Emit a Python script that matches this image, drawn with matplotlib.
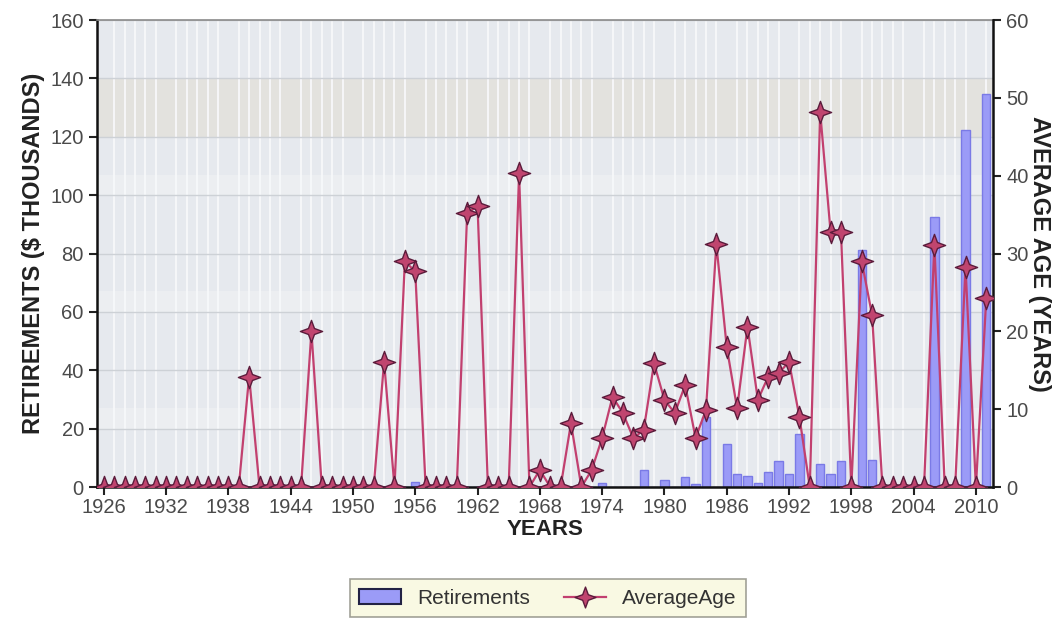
import matplotlib
matplotlib.use('Agg')
import matplotlib.pyplot as plt
from matplotlib.path import Path
from matplotlib.patches import Patch
from matplotlib.lines import Line2D

plt.rcParams['font.family'] = ['Liberation Sans', 'DejaVu Sans']

# data
years = list(range(1926, 2012))

retirements = [
    0, 0, 0, 0, 0, 0, 0, 0, 0, 0,            # 1926-1935
    0, 0, 0, 0, 0, 0, 0, 0, 0, 0,            # 1936-1945
    0, 0, 0, 0, 0, 0, 0, 0, 0, 0,            # 1946-1955
    1.7, 0, 0, 0, 0, 0, 0, 0, 0, 0,          # 1956-1965
    0, 0, 0, 0, 0, 0, 0, 0, 1.5, 0,          # 1966-1975
    0, 0, 5.9, 0, 2.5, 0, 3.4, 1.1, 24, 0,   # 1976-1985
    14.6, 4.3, 3.7, 1.4, 5.1, 8.9, 4.6, 18.0, 0, 7.8,   # 1986-1995
    4.3, 8.9, 0, 81.2, 9.1, 0, 0, 0, 0, 0,   # 1996-2005
    92.6, 0, 0, 122.3, 0, 134.5,             # 2006-2011
]

average_age = [
    0, 0, 0, 0, 0, 0, 0, 0, 0, 0,                        # 1926-1935
    0, 0, 0, 0, 14.2, 0, 0, 0, 0, 0,                     # 1936-1945
    20.0, 0, 0, 0, 0, 0, 0, 16.1, 0, 29.0,               # 1946-1955
    27.7, 0, 0, 0, 0, 35.2, 36.1, 0, 0, 0,               # 1956-1965
    40.3, 0, 2.2, 0, 0, 8.2, 0, 2.2, 6.3, 11.6,          # 1966-1975
    9.5, 6.3, 7.3, 15.9, 11.2, 9.5, 13.1, 6.3, 9.9, 31.2,   # 1976-1985
    18.0, 10.1, 20.6, 11.2, 14.2, 14.6, 16.1, 9.0, 0, 48.2, # 1986-1995
    32.8, 32.8, 0, 29.0, 22.1, 0, 0, 0, 0, 0,            # 1996-2005
    31.1, 0, 0, 28.3, 0, 24.3,                           # 2006-2011
]

year_ticks = list(range(1926, 2011, 6))
left_ticks = [0, 20, 40, 60, 80, 100, 120, 140, 160]
right_ticks = [0, 10, 20, 30, 40, 50, 60]

bar_color = '#9b9bf7'
bar_edge = '#7a7ae6'
line_color = '#c2406f'
marker_face = '#c0456f'
marker_edge = '#5c1c3c'
tick_color = '#4a4a4a'

star = Path.unit_regular_star(4, innerCircle=0.38)

fig = plt.figure(figsize=(10.58, 6.22), dpi=100)
ax = fig.add_axes([0.0917, 0.217, 0.8469, 0.7508])

ax.set_facecolor('#e6e9ee')
# soft horizontal bands like the original background
ax.axhspan(120, 140, color='#e3e2de', zorder=0, lw=0)
for lo in range(0, 120, 40):
    ax.axhspan(lo + 20, lo + 27, color='#eceef1', zorder=0, lw=0)

ax.bar(years, retirements, width=0.8, color=bar_color, edgecolor=bar_edge,
       linewidth=1.0, zorder=2)

ax.set_xlim(1925.35, 2011.65)
ax.set_ylim(0, 160)
ax.set_yticks(left_ticks)
ax.set_xticks(year_ticks)
ax.set_xticks(years, minor=True)
ax.grid(axis='x', which='minor', color='#f7f8fa', linewidth=1.3, zorder=1)
ax.grid(axis='y', which='major', color='#cdd1d6', linewidth=1.0, zorder=1)
ax.set_axisbelow(True)
ax.tick_params(axis='x', which='minor', length=0)
ax.tick_params(axis='both', which='major', direction='out', length=6, width=1.5,
               labelsize=14.5, labelcolor=tick_color, color='#222222')
ax.tick_params(axis='x', which='major', pad=2)

for side in ['left', 'bottom']:
    ax.spines[side].set_color('#111111')
    ax.spines[side].set_linewidth(1.8)
ax.spines['top'].set_color('#8a8a8a')
ax.spines['top'].set_linewidth(1.2)
ax.spines['right'].set_visible(False)

ax.set_ylabel('RETIREMENTS ($ THOUSANDS)', fontsize=17, fontweight='bold',
              color='#222222', labelpad=4)
ax.set_xlabel('YEARS', fontsize=16, fontweight='bold', color='#222222', labelpad=1)

ax2 = ax.twinx()
ax2.plot(years, average_age, color=line_color, linewidth=1.6, marker=star,
         markersize=16, markerfacecolor=marker_face, markeredgecolor=marker_edge,
         markeredgewidth=1.0, zorder=3)
ax2.set_ylim(0, 60)
ax2.set_yticks(right_ticks)
ax2.tick_params(axis='y', direction='out', length=6, width=1.5, labelsize=14.5,
                labelcolor=tick_color, color='#222222')
ax2.spines['right'].set_color('#111111')
ax2.spines['right'].set_linewidth(1.8)
ax2.spines['top'].set_visible(False)
ax2.spines['left'].set_visible(False)
ax2.spines['bottom'].set_visible(False)
ax2.set_ylabel('AVERAGE AGE (YEARS)', fontsize=17, fontweight='bold',
               color='#222222', rotation=270, labelpad=16)

handles = [
    Patch(facecolor=bar_color, edgecolor='#222244', linewidth=1.5, label='Retirements'),
    Line2D([0], [0], color=line_color, linewidth=1.6, marker=star, markersize=15,
           markerfacecolor=marker_face, markeredgecolor=marker_edge, label='AverageAge'),
]
leg = fig.legend(handles=handles, loc='center', bbox_to_anchor=(0.518, 0.038), ncol=2,
                 fontsize=15, frameon=True, fancybox=False, handlelength=2.0,
                 columnspacing=1.6, borderpad=0.45)
leg.get_frame().set_facecolor('#f8f8dc')
leg.get_frame().set_edgecolor('#8a8a80')
leg.get_frame().set_linewidth(1.2)
for t in leg.get_texts():
    t.set_color('#333333')

fig.savefig('out.png', dpi=100)
